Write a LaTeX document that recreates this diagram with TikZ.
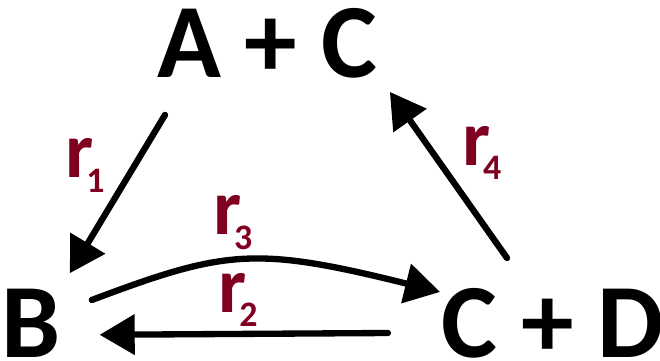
\documentclass[tikz,border=0pt]{standalone}
\usepackage{fontspec}
\setmainfont{Carlito}
\usetikzlibrary{arrows.meta}
\definecolor{ratered}{RGB}{128,0,32}
\newcommand\ratelbl[1]{r\kern-7pt\raisebox{-14pt}{\fontsize{34}{34}\selectfont #1}}
\tikzset{
  species/.style={inner sep=0pt,font=\fontsize{100}{100}\selectfont\bfseries},
  ratebox/.style={inner sep=0pt,anchor=base west,text=ratered,
    font=\fontsize{75}{75}\selectfont\bfseries},
  arr/.style={line width=6pt,line cap=round,
    -{Triangle[length=33pt,width=39pt,line width=0pt]}}
}
\begin{document}
\begin{tikzpicture}
 \useasboundingbox (0,0) rectangle (22,12);
 \node[species,anchor=base] (AC) at (8.9,9.4) {A + C};
 \node[species,anchor=base] (B) at (1.03,0.07) {B};
 \node[species,anchor=base] (CD) at (18.43,0.07) {C + D};
 % reactions
 \draw[arr] ([shift={(-3.4,-1.23)}]AC.base) -- ([shift={(1.3,2.83)}]B.base);
 \draw[arr] ([shift={(2.03,1.93)}]B.base)
    .. controls (7.5,3.67) and (8.5,3.8) .. ([shift={(-3.77,2.2)}]CD.base);
 \draw[arr] ([shift={(-5.5,0.83)}]CD.base) -- ([shift={(2.3,0.77)}]B.base);
 \draw[arr] ([shift={(-1.53,3.33)}]CD.base) -- ([shift={(4.1,-0.47)}]AC.base);
 % rate labels
 \node[ratebox] (r1) at (2.18,6.07) {\ratelbl{1}};
 \node[ratebox] (r2) at (7.28,1.6) {\ratelbl{2}};
 \node[ratebox] (r3) at (7.11,4.17) {\ratelbl{3}};
 \node[ratebox] (r4) at (15.41,6.5) {\ratelbl{4}};
\end{tikzpicture}
\end{document}
